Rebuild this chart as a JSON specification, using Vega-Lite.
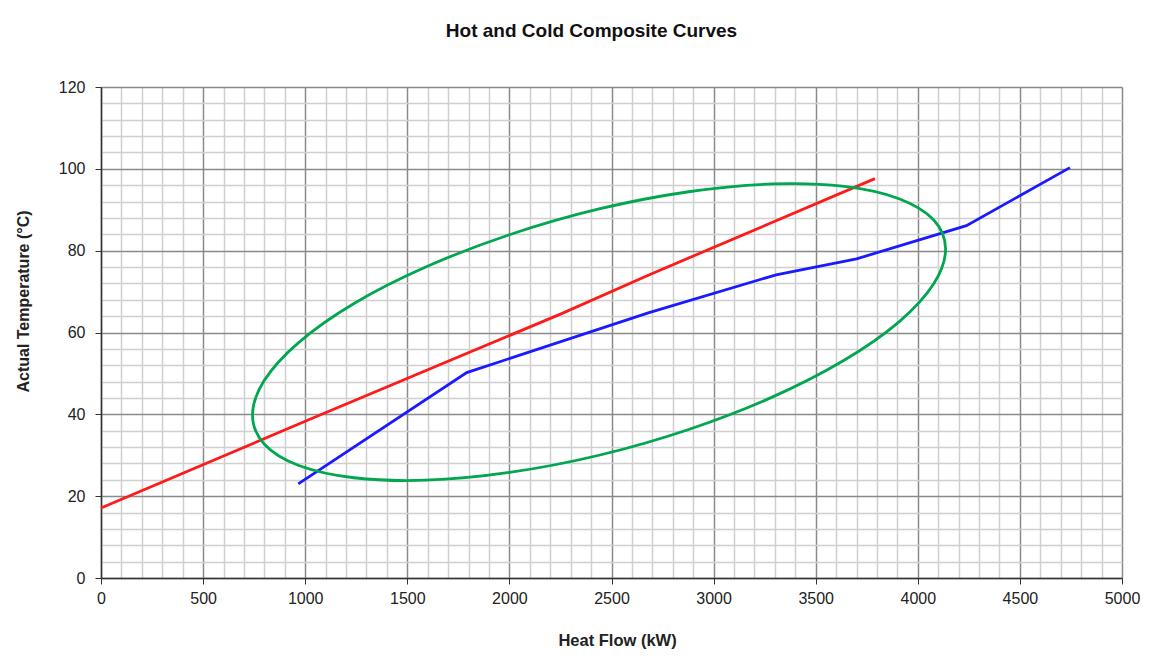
{
  "$schema": "https://vega.github.io/schema/vega-lite/v6.json",
  "width": 1021,
  "height": 491,
  "autosize": {"type": "none"},
  "padding": {"left": 101, "top": 87, "right": 50, "bottom": 85},
  "background": "white",
  "config": {"font": "Liberation Sans", "view": {"stroke": null}},
  "title": {
    "text": "Hot and Cold Composite Curves",
    "font": "Liberation Sans",
    "fontSize": 19,
    "fontWeight": "bold",
    "color": "#111111",
    "anchor": "middle",
    "frame": "group",
    "dx": -20,
    "offset": 23,
    "baseline": "alphabetic"
  },
  "datasets": {
    "curves": [
      {"series": "Hot", "heat": 0, "temp": 17.1},
      {"series": "Hot", "heat": 1000, "temp": 38.3},
      {"series": "Hot", "heat": 2250, "temp": 64.5},
      {"series": "Hot", "heat": 2680, "temp": 74.0},
      {"series": "Hot", "heat": 3790, "temp": 97.6},
      {"series": "Cold", "heat": 966, "temp": 23.0},
      {"series": "Cold", "heat": 1791, "temp": 50.2},
      {"series": "Cold", "heat": 2680, "temp": 64.8},
      {"series": "Cold", "heat": 3306, "temp": 74.1},
      {"series": "Cold", "heat": 3700, "temp": 78.0},
      {"series": "Cold", "heat": 4238, "temp": 86.1},
      {"series": "Cold", "heat": 4745, "temp": 100.3}
    ],
    "ellipse": [
      {"k": 0, "heat": 4136, "temp": 80.4},
      {"k": 1, "heat": 4078, "temp": 71.9},
      {"k": 2, "heat": 3908, "temp": 62.6},
      {"k": 3, "heat": 3639, "temp": 53.2},
      {"k": 4, "heat": 3287, "temp": 44.2},
      {"k": 5, "heat": 2878, "temp": 36.3},
      {"k": 6, "heat": 2439, "temp": 30.0},
      {"k": 7, "heat": 2000, "temp": 25.8},
      {"k": 8, "heat": 1590, "temp": 23.9},
      {"k": 9, "heat": 1239, "temp": 24.5},
      {"k": 10, "heat": 969, "temp": 27.5},
      {"k": 11, "heat": 800, "temp": 32.7},
      {"k": 12, "heat": 742, "temp": 39.8},
      {"k": 13, "heat": 800, "temp": 48.3},
      {"k": 14, "heat": 969, "temp": 57.6},
      {"k": 15, "heat": 1239, "temp": 67.1},
      {"k": 16, "heat": 1590, "temp": 76.0},
      {"k": 17, "heat": 2000, "temp": 83.9},
      {"k": 18, "heat": 2439, "temp": 90.2},
      {"k": 19, "heat": 2878, "temp": 94.4},
      {"k": 20, "heat": 3287, "temp": 96.3},
      {"k": 21, "heat": 3639, "temp": 95.7},
      {"k": 22, "heat": 3908, "temp": 92.7},
      {"k": 23, "heat": 4078, "temp": 87.5}
    ]
  },
  "encoding": {
    "x": {
      "field": "heat",
      "type": "quantitative",
      "scale": {"domain": [0, 5000], "nice": false, "zero": false},
      "axis": {
        "title": "Heat Flow (kW)",
        "values": [0,100,200,300,400,500,600,700,800,900,1000,1100,1200,1300,1400,1500,1600,1700,1800,1900,2000,2100,2200,2300,2400,2500,2600,2700,2800,2900,3000,3100,3200,3300,3400,3500,3600,3700,3800,3900,4000,4100,4200,4300,4400,4500,4600,4700,4800,4900,5000],
        "labelExpr": "datum.value % 500 === 0 ? datum.label : ''",
        "format": "d",
        "grid": true,
        "gridColor": {"condition": {"test": "datum.value % 500 === 0", "value": "#8a8a8a"}, "value": "#cfcfcf"},
        "gridWidth": 1.5,
        "tickOpacity": {"condition": {"test": "datum.value % 500 === 0", "value": 1}, "value": 0},
        "tickColor": "#333333",
        "tickSize": 6,
        "domainColor": "#333333",
        "domainWidth": 1.5,
        "labelFont": "Liberation Sans",
        "labelFontSize": 16,
        "labelColor": "#222222",
        "labelPadding": 6,
        "labelFlush": false,
        "labelOverlap": false,
        "titleFont": "Liberation Sans",
        "titleFontSize": 16.5,
        "titleFontWeight": "bold",
        "titleColor": "#222222",
        "titlePadding": 26,
        "titleX": 516
      }
    },
    "y": {
      "field": "temp",
      "type": "quantitative",
      "scale": {"domain": [0, 120], "nice": false},
      "axis": {
        "title": "Actual Temperature (°C)",
        "values": [0,4,8,12,16,20,24,28,32,36,40,44,48,52,56,60,64,68,72,76,80,84,88,92,96,100,104,108,112,116,120],
        "labelExpr": "datum.value % 20 === 0 ? datum.label : ''",
        "grid": true,
        "gridColor": {"condition": {"test": "datum.value % 20 === 0", "value": "#8a8a8a"}, "value": "#cfcfcf"},
        "gridWidth": 1.5,
        "tickOpacity": {"condition": {"test": "datum.value % 20 === 0", "value": 1}, "value": 0},
        "tickColor": "#333333",
        "tickSize": 6,
        "domainColor": "#333333",
        "domainWidth": 1.5,
        "labelFont": "Liberation Sans",
        "labelFontSize": 16,
        "labelColor": "#222222",
        "labelPadding": 10,
        "labelFlush": false,
        "labelOverlap": false,
        "titleFont": "Liberation Sans",
        "titleFontSize": 16,
        "titleFontWeight": "bold",
        "titleColor": "#222222",
        "titlePadding": 27,
        "titleY": 214
      }
    }
  },
  "layer": [
    {
      "data": {"name": "curves"},
      "mark": {"type": "line", "strokeWidth": 2.8},
      "encoding": {
        "color": {
          "field": "series",
          "type": "nominal",
          "scale": {"domain": ["Hot", "Cold"], "range": ["#ff1a1a", "#1a1aff"]},
          "legend": null
        },
        "order": {"field": "heat", "type": "quantitative"}
      }
    },
    {
      "data": {"name": "ellipse"},
      "mark": {"type": "line", "interpolate": "cardinal-closed", "strokeWidth": 2.8, "color": "#00a650"},
      "encoding": {
        "order": {"field": "k", "type": "quantitative"}
      }
    }
  ]
}
